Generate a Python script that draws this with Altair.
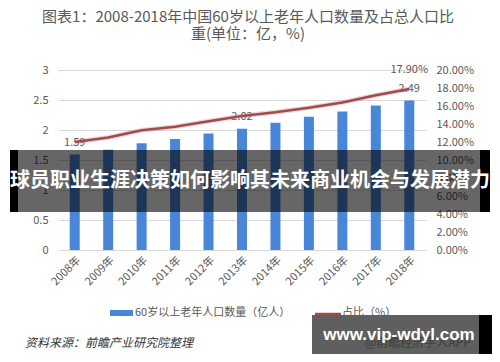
import altair as alt
import pandas as pd

years = ["2008年", "2009年", "2010年", "2011年", "2012年", "2013年",
         "2014年", "2015年", "2016年", "2017年", "2018年"]
population = [1.59, 1.67, 1.78, 1.85, 1.94, 2.02, 2.12, 2.22, 2.31, 2.41, 2.49]
ratio = [0.120, 0.125, 0.133, 0.137, 0.143, 0.149, 0.153, 0.158, 0.164, 0.172, 0.179]
labeled_years = ["2008年", "2013年", "2018年"]

title_lines = ["图表1：2008-2018年中国60岁以上老年人口数量及占总人口比", "重(单位：亿，%)"]
legend_bar = "60岁以上老年人口数量（亿人）"
legend_line = "占比（%）"
source_text = "资料来源：前瞻产业研究院整理"
banner_text = "球员职业生涯决策如何影响其未来商业机会与发展潜力"
url_text = "www.vip-wdyl.com"
app_text = "@前瞻经济学人APP"

df = pd.DataFrame({"year": years, "pop": population, "ratio": ratio})
df["show"] = df["year"].isin(labeled_years)
one = pd.DataFrame({"a": [0]})

FONT = "Noto Sans CJK SC"
GRAY = "#595959"
BLUE = "#4a86d8"
RED = "#a54a4a"

x_enc = alt.X("year:N", sort=years, title=None,
              axis=alt.Axis(labelAngle=-45, labelFontSize=11, labelColor=GRAY,
                            labelFont=FONT, domain=False, ticks=False, grid=False,
                            labelPadding=4))

bars = alt.Chart(df).mark_bar(size=10, color=BLUE).encode(
    x=x_enc,
    y=alt.Y("pop:Q", title=None,
            scale=alt.Scale(domain=[0, 3], nice=False),
            axis=alt.Axis(values=[0, 0.5, 1, 1.5, 2, 2.5, 3], format="~g",
                          labelFontSize=11, labelColor=GRAY, labelFont=FONT,
                          domain=False, ticks=False, gridColor="#d9d9d9",
                          labelPadding=10)),
)

bar_labels = alt.Chart(df).transform_filter("datum.show").mark_text(
    fontSize=11, color=GRAY, font=FONT, dy=-12
).encode(
    x=alt.X("year:N", sort=years),
    y=alt.Y("pop:Q", scale=alt.Scale(domain=[0, 3], nice=False), axis=None),
    text=alt.Text("pop:Q", format=".2f"),
)

line_shadow = alt.Chart(df).mark_line(color="#c99a9a", strokeWidth=5, opacity=0.35).encode(
    x=alt.X("year:N", sort=years),
    y=alt.Y("ratio:Q", scale=alt.Scale(domain=[0, 0.2], nice=False), axis=None),
)

line = alt.Chart(df).mark_line(color=RED, strokeWidth=2.5).encode(
    x=alt.X("year:N", sort=years),
    y=alt.Y("ratio:Q", title=None,
            scale=alt.Scale(domain=[0, 0.2], nice=False),
            axis=alt.Axis(orient="right", values=[i / 100 for i in range(0, 21, 2)],
                          format=".2%", labelFontSize=11, labelColor=GRAY,
                          labelFont=FONT, domain=False, ticks=False, grid=False,
                          labelPadding=10)),
)

pct_label = alt.Chart(df).transform_filter("datum.year == '2018年'").mark_text(
    fontSize=11, color=GRAY, font=FONT, dy=-19
).encode(
    x=alt.X("year:N", sort=years),
    y=alt.Y("ratio:Q", scale=alt.Scale(domain=[0, 0.2], nice=False), axis=None),
    text=alt.Text("ratio:Q", format=".2%"),
)

base = alt.Chart(one)

title1 = base.mark_text(fontSize=15, color=GRAY, font=FONT).encode(
    x=alt.value(190), y=alt.value(-53), text=alt.value(title_lines[0]))
title2 = base.mark_text(fontSize=15, color=GRAY, font=FONT).encode(
    x=alt.value(190), y=alt.value(-36), text=alt.value(title_lines[1]))

# legend
leg_rect = base.mark_rect(color=BLUE).encode(
    x=alt.value(52), x2=alt.value(75), y=alt.value(240), y2=alt.value(246))
leg_text1 = base.mark_text(fontSize=11, color=GRAY, font=FONT, align="left").encode(
    x=alt.value(77), y=alt.value(243), text=alt.value(legend_bar))
leg_rule = base.mark_rule(color=RED, strokeWidth=2.5).encode(
    x=alt.value(257), x2=alt.value(283), y=alt.value(244))
leg_text2 = base.mark_text(fontSize=11, color=GRAY, font=FONT, align="left").encode(
    x=alt.value(284), y=alt.value(243), text=alt.value(legend_line))

source = base.mark_text(fontSize=12, color="#333333", font=FONT, align="left",
                        fontStyle="italic").encode(
    x=alt.value(-33), y=alt.value(273), text=alt.value(source_text))

# banner overlay
banner = base.mark_rect(color="#000000", opacity=0.6).encode(
    x=alt.value(-40), x2=alt.value(422), y=alt.value(80), y2=alt.value(142))
banner_l = base.mark_rect(color="#000000").encode(
    x=alt.value(-48), x2=alt.value(-40), y=alt.value(80), y2=alt.value(142))
banner_r = base.mark_rect(color="#000000").encode(
    x=alt.value(422), x2=alt.value(432), y=alt.value(80), y2=alt.value(142))
banner_t = base.mark_text(fontSize=20, color="white", font=FONT, fontWeight="bold").encode(
    x=alt.value(192), y=alt.value(111), text=alt.value(banner_text))

# url box
box = base.mark_rect(color="#5f5f5f").encode(
    x=alt.value(254), x2=alt.value(421), y=alt.value(245), y2=alt.value(284))
box_r = base.mark_rect(color="#000000").encode(
    x=alt.value(421), x2=alt.value(434), y=alt.value(245), y2=alt.value(284))
app_t = base.mark_text(fontSize=12, color="#3c3c3c", font=FONT, align="left").encode(
    x=alt.value(307), y=alt.value(273), text=alt.value(app_text))
url_t = base.mark_text(fontSize=17, color="white", font="Liberation Sans",
                       fontWeight="bold").encode(
    x=alt.value(341), y=alt.value(265), text=alt.value(url_text))

chart = alt.layer(
    bars, bar_labels, line_shadow, line, pct_label,
    title1, title2, leg_rect, leg_text1, leg_rule, leg_text2, source,
    banner, banner_l, banner_r, banner_t, box, box_r, app_t, url_t
).resolve_scale(y="independent").properties(
    width=368, height=180,
    padding={"left": 50, "top": 62, "right": 66, "bottom": 104},
    autosize=alt.AutoSizeParams(type="none"),
    background="white",
).configure_view(stroke=None)

chart.save("out.html", embed_options={"renderer": "svg", "actions": False})
